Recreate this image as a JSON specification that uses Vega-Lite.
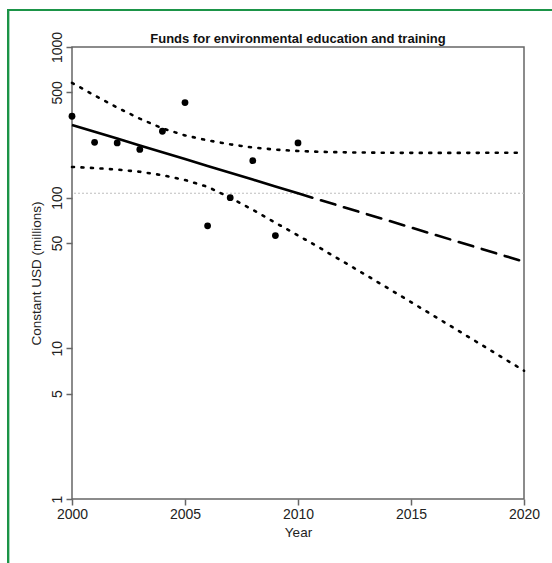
{
  "$schema": "https://vega.github.io/schema/vega-lite/v6.json",
  "width": 452,
  "height": 452,
  "autosize": "none",
  "padding": {"left": 72, "top": 47, "right": 28, "bottom": 64},
  "background": "white",
  "title": {
    "text": "Funds for environmental education and training",
    "font": "Liberation Sans",
    "fontSize": 13,
    "fontWeight": "bold",
    "color": "#111",
    "anchor": "middle",
    "frame": "group",
    "offset": 4,
    "dy": 41
  },
  "config": {
    "view": {"stroke": "#666", "strokeWidth": 1.5},
    "axis": {
      "labelFont": "Liberation Sans",
      "titleFont": "Liberation Sans",
      "labelFontSize": 14,
      "titleFontSize": 13.5,
      "titleFontWeight": "normal",
      "labelColor": "#222",
      "titleColor": "#222",
      "grid": false,
      "domain": false,
      "tickColor": "#666",
      "tickWidth": 1.5,
      "tickSize": 6,
      "labelFlush": false,
      "labelOverlap": false
    }
  },
  "datasets": {
    "points": [
      {"year": 2000, "usd": 347},
      {"year": 2001, "usd": 233},
      {"year": 2002, "usd": 231},
      {"year": 2003, "usd": 209},
      {"year": 2004, "usd": 276},
      {"year": 2005, "usd": 428},
      {"year": 2006, "usd": 65},
      {"year": 2007, "usd": 100},
      {"year": 2008, "usd": 176},
      {"year": 2009, "usd": 56},
      {"year": 2010, "usd": 231}
    ],
    "band": [
      {"year": 2000, "fit": 304.1, "upper": 578.3, "lower": 159.9},
      {"year": 2001, "fit": 273.9, "upper": 476.9, "lower": 157.3},
      {"year": 2002, "fit": 246.7, "upper": 396.2, "lower": 153.6},
      {"year": 2003, "fit": 222.2, "upper": 334.5, "lower": 148.5},
      {"year": 2004, "fit": 200.2, "upper": 288.5, "lower": 141.0},
      {"year": 2005, "fit": 180.3, "upper": 259.0, "lower": 131.0},
      {"year": 2006, "fit": 162.4, "upper": 240.0, "lower": 118.0},
      {"year": 2007, "fit": 146.3, "upper": 226.0, "lower": 100.0},
      {"year": 2008, "fit": 131.8, "upper": 215.0, "lower": 83.0},
      {"year": 2009, "fit": 118.7, "upper": 208.5, "lower": 68.2},
      {"year": 2010, "fit": 106.9, "upper": 204.0, "lower": 56.2},
      {"year": 2011, "fit": 96.3, "upper": 201.5, "lower": 46.1},
      {"year": 2012, "fit": 86.7, "upper": 200.0, "lower": 37.6},
      {"year": 2013, "fit": 78.1, "upper": 199.2, "lower": 30.7},
      {"year": 2014, "fit": 70.4, "upper": 198.6, "lower": 24.96},
      {"year": 2015, "fit": 63.4, "upper": 198.3, "lower": 20.28},
      {"year": 2016, "fit": 57.1, "upper": 198.2, "lower": 16.46},
      {"year": 2017, "fit": 51.4, "upper": 198.2, "lower": 13.35},
      {"year": 2018, "fit": 46.3, "upper": 198.4, "lower": 10.82},
      {"year": 2019, "fit": 41.7, "upper": 198.6, "lower": 8.77},
      {"year": 2020, "fit": 37.6, "upper": 198.9, "lower": 7.1}
    ],
    "reference": [{"level": 107}]
  },
  "layer": [
    {
      "data": {"name": "points"},
      "mark": {"type": "rect", "fillOpacity": 0, "stroke": "#1b9447", "strokeWidth": 2, "clip": false},
      "encoding": {
        "x": {"datum": 1997.17, "type": "quantitative"},
        "x2": {"datum": 2022.5},
        "y": {"datum": 1760, "type": "quantitative"},
        "y2": {"datum": 0.3}
      }
    },
    {
      "data": {"name": "reference"},
      "mark": {"type": "rule", "color": "#bdbdbd", "strokeWidth": 1, "strokeDash": [2, 2]},
      "encoding": {
        "y": {"field": "level", "type": "quantitative"}
      }
    },
    {
      "data": {"name": "band"},
      "mark": {"type": "line", "color": "black", "strokeWidth": 2.6, "strokeDash": [2, 7.5], "strokeCap": "round"},
      "encoding": {
        "x": {"field": "year", "type": "quantitative"},
        "y": {"field": "upper", "type": "quantitative"}
      }
    },
    {
      "data": {"name": "band"},
      "mark": {"type": "line", "color": "black", "strokeWidth": 2.6, "strokeDash": [2, 7.5], "strokeCap": "round"},
      "encoding": {
        "x": {"field": "year", "type": "quantitative"},
        "y": {"field": "lower", "type": "quantitative"}
      }
    },
    {
      "data": {"name": "band"},
      "transform": [{"filter": "datum.year <= 2010"}],
      "mark": {"type": "line", "color": "black", "strokeWidth": 2.6},
      "encoding": {
        "x": {"field": "year", "type": "quantitative"},
        "y": {"field": "fit", "type": "quantitative"}
      }
    },
    {
      "data": {"name": "band"},
      "transform": [{"filter": "datum.year >= 2010"}],
      "mark": {"type": "line", "color": "black", "strokeWidth": 2.6, "strokeDash": [15, 9], "strokeCap": "round"},
      "encoding": {
        "x": {"field": "year", "type": "quantitative"},
        "y": {"field": "fit", "type": "quantitative"}
      }
    },
    {
      "data": {"name": "points"},
      "mark": {"type": "point", "filled": true, "color": "black", "opacity": 1, "size": 46},
      "encoding": {
        "x": {
          "field": "year",
          "type": "quantitative",
          "scale": {"domain": [2000, 2020], "nice": false, "zero": false},
          "axis": {"title": "Year", "values": [2000, 2005, 2010, 2015, 2020], "format": "d", "labelPadding": 2, "titlePadding": 4}
        },
        "y": {
          "field": "usd",
          "type": "quantitative",
          "scale": {"type": "log", "domain": [1, 1000], "nice": false},
          "axis": {
            "title": "Constant USD (millions)",
            "values": [1, 5, 10, 50, 100, 500, 1000],
            "format": "d",
            "labelAngle": -90,
            "labelAlign": "center",
            "labelBaseline": "bottom",
            "labelPadding": 2,
            "titlePadding": 7
          }
        }
      }
    }
  ]
}
